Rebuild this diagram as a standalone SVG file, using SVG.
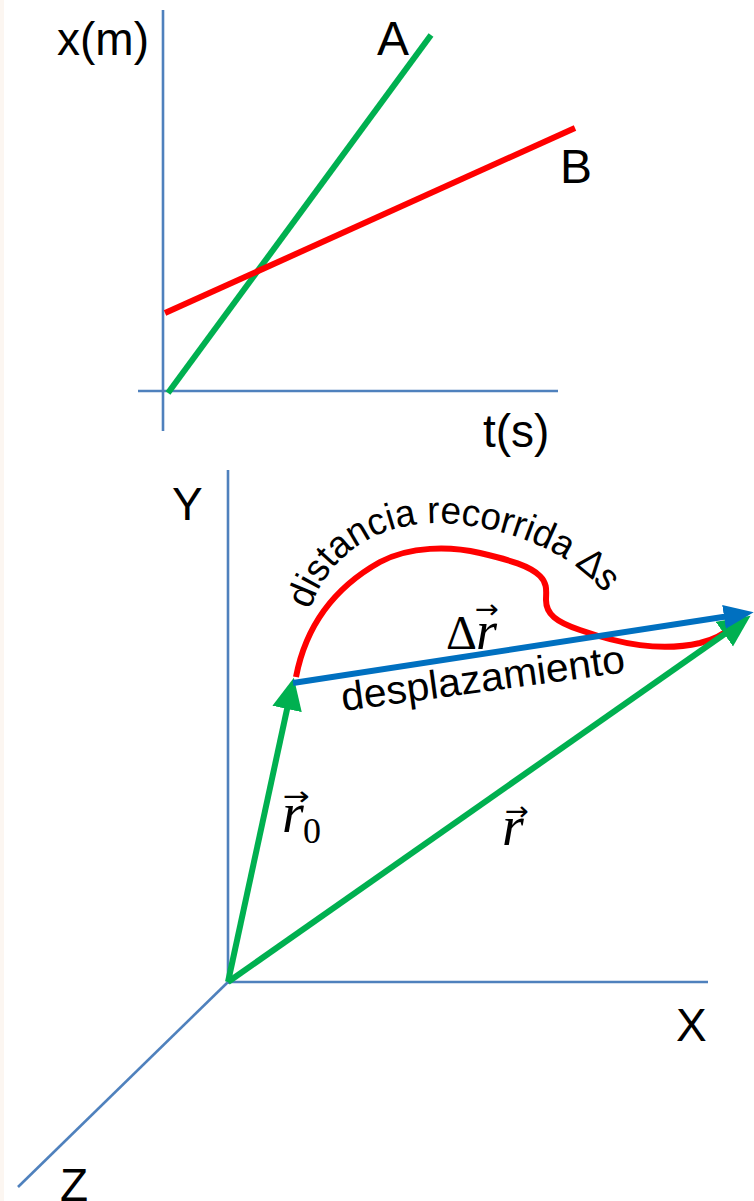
<svg xmlns="http://www.w3.org/2000/svg" width="754" height="1201" viewBox="0 0 754 1201">
  <style>
    .axis { stroke: #4F81BD; stroke-width: 2.6; fill: none; }
    .lbl { font-family: "Liberation Sans", Arial, sans-serif; fill: #000; }
    .math { font-family: "Liberation Serif", "Times New Roman", serif; fill: #000; }
    .vec { font-family: "DejaVu Sans", sans-serif; fill: #000; }
    .green { stroke: #00B050; stroke-width: 6; fill: none; }
    .red { stroke: #FF0000; stroke-width: 6; fill: none; }
    .blue { stroke: #0070C0; stroke-width: 6; fill: none; }
  </style>
  <defs>
    <marker id="headGreen" markerUnits="userSpaceOnUse" markerWidth="34" markerHeight="32" refX="2" refY="16" orient="auto">
      <path d="M0,1 L32,16 L0,31 Z" fill="#00B050"/>
    </marker>
    <marker id="headBlue" markerUnits="userSpaceOnUse" markerWidth="32" markerHeight="26" refX="2" refY="13" orient="auto">
      <path d="M0,1 L30,13 L0,25 Z" fill="#0070C0"/>
    </marker>
    <path id="arcText" d="M310,610 C333,540 400,518 455,524 C520,530 588,560 616,610"/>
  </defs>
  <rect x="0" y="0" width="754" height="1201" fill="#ffffff"/>
  <rect x="0" y="0" width="4" height="1201" fill="#fcf6f1"/>

  <!-- Top graph: x(t) -->
  <g id="graph-xt-axes">
    <line class="axis" x1="163" y1="10" x2="163" y2="431"/>
    <line class="axis" x1="138" y1="391" x2="558" y2="391"/>
    <text class="lbl" x="57" y="55" font-size="46">x(m)</text>
    <text class="lbl" x="483" y="447" font-size="46">t(s)</text>
  </g>
  <g id="line-A">
    <line class="green" x1="168" y1="393" x2="431" y2="35"/>
    <text class="lbl" x="377" y="55" font-size="48">A</text>
  </g>
  <g id="line-B">
    <line class="red" x1="165" y1="313" x2="575" y2="128"/>
    <text class="lbl" x="560" y="183" font-size="48">B</text>
  </g>

  <!-- Bottom: 3D axes -->
  <g id="axes-xyz">
    <line class="axis" x1="228" y1="470" x2="228" y2="984"/>
    <line class="axis" x1="227" y1="982" x2="708" y2="982"/>
    <line class="axis" x1="228" y1="982" x2="18" y2="1187"/>
    <text class="lbl" x="172" y="520" font-size="46">Y</text>
    <text class="lbl" x="676" y="1041" font-size="46">X</text>
    <text class="lbl" x="60" y="1201" font-size="46">Z</text>
  </g>

  <!-- Trajectory -->
  <g id="trajectory">
    <path class="red" d="M296,677 C305,630 330,590 380,562 C410,546 450,546 480,553 C510,560 530,566 540,576 C548,584 546,592 546,600 C546,614 556,622 580,630 C620,644 660,652 700,643 C715,639 725,633 730,628"/>
    <text class="lbl" font-size="38"><textPath href="#arcText" textLength="352" lengthAdjust="spacingAndGlyphs">distancia recorrida ∆s</textPath></text>
  </g>

  <!-- Vectors -->
  <g id="connectors">
    <line class="green" x1="228" y1="982" x2="287.5" y2="707" marker-end="url(#headGreen)"/>
    <line class="green" x1="228" y1="982" x2="726" y2="633" marker-end="url(#headGreen)"/>
    <line class="blue" x1="293" y1="683" x2="726" y2="616.5" marker-end="url(#headBlue)"/>
  </g>

  <g id="label-r0">
    <text class="math" x="282" y="832" font-size="56" font-style="italic">r</text>
    <text class="math" x="303" y="843" font-size="36">0</text>
    <text class="vec" x="283" y="805" font-size="26" textLength="27" lengthAdjust="spacingAndGlyphs">→</text>
  </g>
  <g id="label-r">
    <text class="math" x="502" y="845" font-size="56" font-style="italic">r</text>
    <text class="vec" x="505" y="820" font-size="26" textLength="24" lengthAdjust="spacingAndGlyphs">→</text>
  </g>
  <g id="label-dr">
    <text class="math" x="446" y="649" font-size="48">Δ</text>
    <text class="math" x="476" y="649" font-size="54" font-style="italic">r</text>
    <text class="vec" x="475" y="618" font-size="26" textLength="24" lengthAdjust="spacingAndGlyphs">→</text>
    <text class="lbl" font-size="40" transform="translate(343,711) rotate(-7.8)" textLength="286" lengthAdjust="spacingAndGlyphs">desplazamiento</text>
  </g>
</svg>
